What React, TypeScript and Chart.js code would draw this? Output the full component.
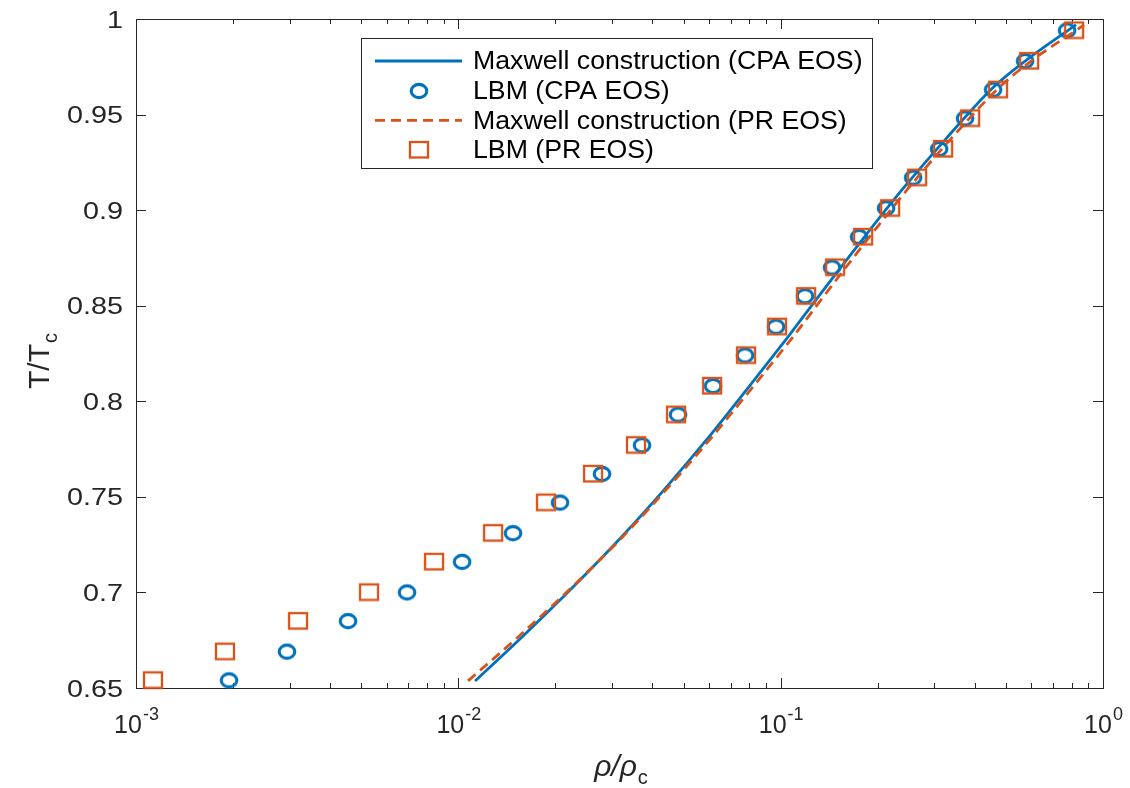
import React, { useEffect, useRef } from "react";
import { Chart, registerables } from "chart.js";

Chart.register(...registerables);

const BLUE = "#0072BD";
const ORANGE = "#D95319";
const AXIS_COLOR = "#262626";
const FONT = '"Liberation Sans", Arial, Helvetica, sans-serif';

// Reduced temperature T/Tc of the LBM runs
const lbmTemperature = [
  0.654, 0.669, 0.685, 0.700, 0.716, 0.731, 0.747, 0.762, 0.777, 0.793, 0.808, 0.824,
  0.839, 0.855, 0.870, 0.886, 0.901, 0.917, 0.932, 0.948, 0.963, 0.978, 0.994,
];

// Reduced gas density rho/rho_c from LBM, CPA EOS
const lbmCpaDensity = [
  0.001944, 0.00294, 0.004548, 0.006932, 0.01027, 0.01478, 0.02068, 0.02791, 0.03715,
  0.04804, 0.06171, 0.07752, 0.09676, 0.119, 0.1443, 0.1751, 0.2123, 0.2575, 0.3101,
  0.3733, 0.456, 0.5733, 0.7737,
];

// Reduced gas density rho/rho_c from LBM, PR EOS
const lbmPrDensity = [
  0.001129, 0.001888, 0.003182, 0.005284, 0.008406, 0.01282, 0.01871, 0.02618, 0.03557,
  0.04736, 0.06126, 0.07808, 0.09745, 0.1199, 0.1475, 0.1802, 0.2185, 0.265, 0.3191,
  0.387, 0.4725, 0.5898, 0.8135,
];

// Maxwell equal-area construction, CPA EOS
const maxwellCpaDensity = [
  0.011268, 0.015648, 0.022532, 0.031862, 0.043947, 0.059541, 0.079218, 0.10468, 0.13733,
  0.18076, 0.24059, 0.32715, 0.45447, 0.5733, 0.7737, 0.82517,
];
const maxwellCpaTemperature = [
  0.6537, 0.6762, 0.7023, 0.7285, 0.7546, 0.7808, 0.807, 0.8331, 0.8593, 0.8854, 0.9116,
  0.9377, 0.9639, 0.978, 0.9937, 0.9969,
];

// Maxwell equal-area construction, PR EOS
const maxwellPrDensity = [
  0.010717, 0.015208, 0.022371, 0.03209, 0.044581, 0.060832, 0.081515, 0.10849, 0.14233,
  0.18734, 0.24935, 0.33904, 0.47438, 0.59812, 0.81924, 0.87371,
];
const maxwellPrTemperature = [
  0.6537, 0.6762, 0.7023, 0.7285, 0.7546, 0.7808, 0.807, 0.8331, 0.8593, 0.8854, 0.9116,
  0.9377, 0.9639, 0.978, 0.9937, 0.9969,
];

const yTickValues = [0.65, 0.7, 0.75, 0.8, 0.85, 0.9, 0.95, 1];
const yTickLabels = ["0.65", "0.7", "0.75", "0.8", "0.85", "0.9", "0.95", "1"];
const xDecadeValues = [0.001, 0.01, 0.1, 1];
const xDecadeExponents = ["-3", "-2", "-1", "0"];

const legendLabels = [
  "Maxwell construction (CPA EOS)",
  "LBM (CPA EOS)",
  "Maxwell construction (PR EOS)",
  "LBM (PR EOS)",
];

const toPoints = (xs: number[], ys: number[]) => xs.map((x, i) => ({ x, y: ys[i] }));

// Open marker glyphs (slightly wider than tall)
function makeCircleMarker(color: string): HTMLCanvasElement {
  const c = document.createElement("canvas");
  c.width = 24;
  c.height = 22;
  const g = c.getContext("2d")!;
  g.strokeStyle = color;
  g.lineWidth = 3.1;
  g.beginPath();
  g.ellipse(12, 11, 7.8, 6.6, 0, 0, Math.PI * 2);
  g.stroke();
  return c;
}

function makeSquareMarker(color: string): HTMLCanvasElement {
  const c = document.createElement("canvas");
  c.width = 24;
  c.height = 22;
  const g = c.getContext("2d")!;
  g.strokeStyle = color;
  g.lineWidth = 2.3;
  g.strokeRect(3, 3, 18, 15.5);
  return c;
}

const axesPlugin = {
  id: "boxedAxes",
  beforeDatasetsDraw(chart: any) {
    const { ctx, chartArea: a, scales } = chart;
    const xs = scales.x;
    const ys = scales.y;
    ctx.save();
    ctx.strokeStyle = AXIS_COLOR;
    ctx.lineWidth = 1;

    // inward tick marks on all four sides
    ctx.beginPath();
    yTickValues.forEach((v) => {
      const py = Math.round(ys.getPixelForValue(v)) + 0.5;
      ctx.moveTo(a.left, py);
      ctx.lineTo(a.left + 10, py);
      ctx.moveTo(a.right, py);
      ctx.lineTo(a.right - 10, py);
    });
    xDecadeValues.forEach((d, i) => {
      const px = Math.round(xs.getPixelForValue(d)) + 0.5;
      ctx.moveTo(px, a.bottom);
      ctx.lineTo(px, a.bottom - 10);
      ctx.moveTo(px, a.top);
      ctx.lineTo(px, a.top + 10);
      if (i < xDecadeValues.length - 1) {
        for (let m = 2; m <= 9; m++) {
          const mx = Math.round(xs.getPixelForValue(d * m)) + 0.5;
          ctx.moveTo(mx, a.bottom);
          ctx.lineTo(mx, a.bottom - 5);
          ctx.moveTo(mx, a.top);
          ctx.lineTo(mx, a.top + 5);
        }
      }
    });
    ctx.stroke();

    ctx.strokeRect(
      Math.round(a.left) + 0.5,
      Math.round(a.top) + 0.5,
      Math.round(a.right - a.left),
      Math.round(a.bottom - a.top)
    );

    // y tick labels (wide digits)
    ctx.fillStyle = AXIS_COLOR;
    ctx.font = `24px ${FONT}`;
    ctx.textAlign = "right";
    ctx.textBaseline = "middle";
    yTickValues.forEach((v, i) => {
      ctx.save();
      ctx.translate(a.left - 13, ys.getPixelForValue(v) + 2);
      ctx.scale(1.2, 1);
      ctx.fillText(yTickLabels[i], 0, 0);
      ctx.restore();
    });

    // x tick labels as powers of ten
    ctx.textAlign = "left";
    ctx.textBaseline = "alphabetic";
    xDecadeValues.forEach((d, i) => {
      const px = xs.getPixelForValue(d);
      ctx.font = `25px ${FONT}`;
      const wBase = ctx.measureText("10").width;
      ctx.font = `18px ${FONT}`;
      const wExp = ctx.measureText(xDecadeExponents[i]).width;
      const start = px - (wBase + wExp) / 2;
      ctx.font = `25px ${FONT}`;
      ctx.fillText("10", start, a.bottom + 45);
      ctx.font = `18px ${FONT}`;
      ctx.fillText(xDecadeExponents[i], start + wBase + 1, a.bottom + 32);
    });

    // x axis title: rho / rho_c
    const cx = (a.left + a.right) / 2 + 1;
    ctx.font = `italic 30px ${FONT}`;
    const wMain = ctx.measureText("ρ/ρ").width;
    ctx.font = `20px ${FONT}`;
    const wSub = ctx.measureText("c").width;
    const xStart = cx - (wMain + wSub) / 2;
    ctx.font = `italic 30px ${FONT}`;
    ctx.fillText("ρ/ρ", xStart, a.bottom + 88);
    ctx.font = `20px ${FONT}`;
    ctx.fillText("c", xStart + wMain + 1, a.bottom + 96);

    // y axis title: T / T_c
    ctx.save();
    ctx.translate(49, (a.top + a.bottom) / 2 + 8);
    ctx.rotate(-Math.PI / 2);
    ctx.font = `30px ${FONT}`;
    const wT = ctx.measureText("T/T").width;
    ctx.font = `20px ${FONT}`;
    const wc = ctx.measureText("c").width;
    const ts = -(wT + wc) / 2;
    ctx.font = `30px ${FONT}`;
    ctx.fillText("T/T", ts, 0);
    ctx.font = `20px ${FONT}`;
    ctx.fillText("c", ts + wT + 1, 8);
    ctx.restore();

    ctx.restore();
  },
  afterDatasetsDraw(chart: any) {
    const { ctx } = chart;
    const datasets = chart.data.datasets;
    const box = { left: 361, top: 38, width: 511, height: 130 };
    ctx.save();
    ctx.fillStyle = "#ffffff";
    ctx.fillRect(box.left, box.top, box.width, box.height);
    ctx.strokeStyle = AXIS_COLOR;
    ctx.lineWidth = 1;
    ctx.strokeRect(box.left + 0.5, box.top + 0.5, box.width, box.height);

    const sampleLeft = box.left + 14;
    const sampleRight = box.left + 101;
    const sampleMid = (sampleLeft + sampleRight) / 2;
    const textX = box.left + 112;
    datasets.forEach((ds: any, i: number) => {
      const rowY = box.top + 23 + i * 29.7;
      if (ds.showLine !== false) {
        ctx.save();
        ctx.strokeStyle = ds.borderColor;
        ctx.lineWidth = ds.borderWidth;
        ctx.setLineDash(ds.borderDash || []);
        ctx.beginPath();
        ctx.moveTo(sampleLeft, rowY);
        ctx.lineTo(sampleRight, rowY);
        ctx.stroke();
        ctx.restore();
      } else {
        const img = ds.pointStyle as HTMLCanvasElement;
        ctx.drawImage(img, Math.round(sampleMid - img.width / 2), Math.round(rowY - img.height / 2));
      }
      ctx.fillStyle = "#000000";
      ctx.font = `26.7px ${FONT}`;
      ctx.textAlign = "left";
      ctx.textBaseline = "middle";
      ctx.fillText(ds.label, textX, rowY + 1);
    });
    ctx.restore();
  },
};

export default function App() {
  const canvasRef = useRef<HTMLCanvasElement | null>(null);

  useEffect(() => {
    if (!canvasRef.current) return;
    const circleMarker = makeCircleMarker(BLUE);
    const squareMarker = makeSquareMarker(ORANGE);
    const chart = new Chart(canvasRef.current, {
      type: "line",
      data: {
        datasets: [
          {
            label: legendLabels[0],
            data: toPoints(maxwellCpaDensity, maxwellCpaTemperature),
            borderColor: BLUE,
            borderWidth: 2.8,
            pointRadius: 0,
            cubicInterpolationMode: "monotone",
            fill: false,
            clip: false,
            order: 4,
          },
          {
            label: legendLabels[1],
            data: toPoints(lbmCpaDensity, lbmTemperature),
            showLine: false,
            pointStyle: circleMarker,
            pointRadius: 10,
            borderColor: BLUE,
            clip: false,
            order: 3,
          },
          {
            label: legendLabels[2],
            data: toPoints(maxwellPrDensity, maxwellPrTemperature),
            borderColor: ORANGE,
            borderWidth: 2.8,
            borderDash: [10, 6],
            pointRadius: 0,
            cubicInterpolationMode: "monotone",
            fill: false,
            clip: false,
            order: 2,
          },
          {
            label: legendLabels[3],
            data: toPoints(lbmPrDensity, lbmTemperature),
            showLine: false,
            pointStyle: squareMarker,
            pointRadius: 12,
            borderColor: ORANGE,
            clip: false,
            order: 1,
          },
        ] as any,
      },
      options: {
        animation: false,
        responsive: true,
        maintainAspectRatio: false,
        events: [],
        layout: { padding: { left: 136, top: 19, right: 27, bottom: 100 } },
        plugins: { legend: { display: false }, tooltip: { enabled: false } },
        scales: {
          x: { type: "logarithmic", min: 0.001, max: 1, display: false },
          y: { type: "linear", min: 0.65, max: 1, display: false },
        },
      },
      plugins: [axesPlugin],
    });
    return () => chart.destroy();
  }, []);

  return (
    <div
      style={{
        position: "fixed",
        left: 0,
        top: 0,
        width: 1130,
        height: 788,
        background: "#ffffff",
      }}
    >
      <canvas ref={canvasRef} />
    </div>
  );
}
